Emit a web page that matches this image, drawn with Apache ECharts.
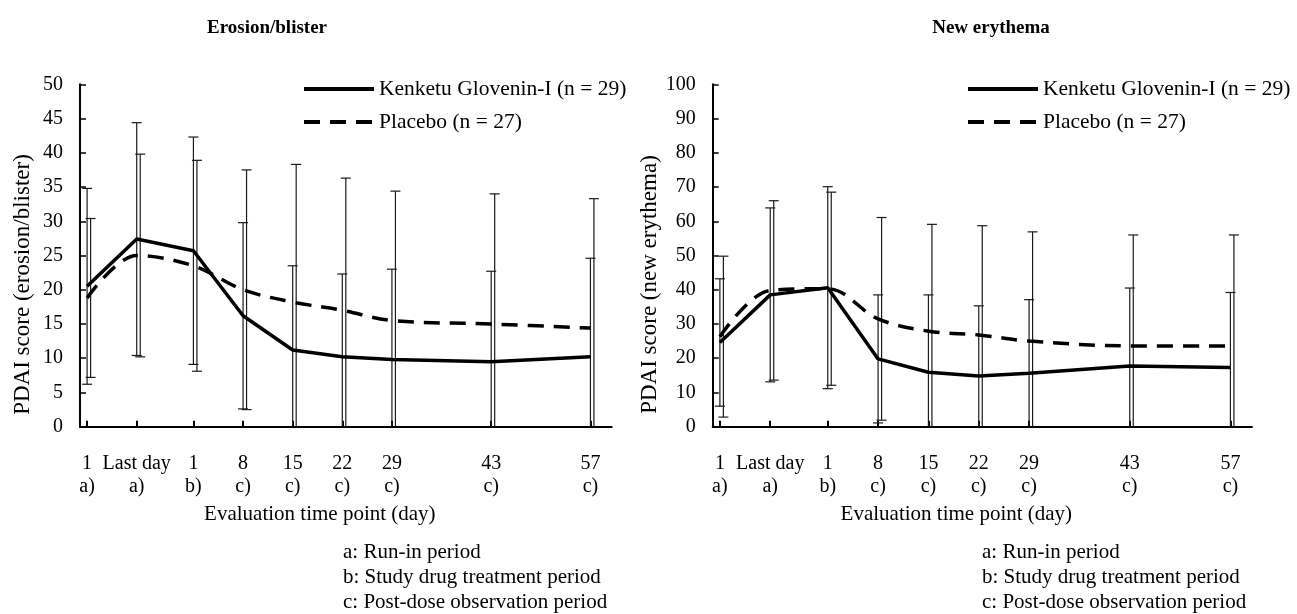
<!DOCTYPE html>
<html><head><meta charset="utf-8">
<script src="https://cdn.jsdelivr.net/npm/echarts@6/dist/echarts.min.js"></script>
<style>html,body{margin:0;padding:0;background:#fff}#c{width:1297px;height:614px}</style>
</head><body><div id="c"></div>
<script>
const xDays = [-14, -7, 1, 8, 15, 22, 29, 43, 57];
const xTopLabels = ['1', 'Last day', '1', '8', '15', '22', '29', '43', '57'];
const xPeriodLabels = ['a)', 'a)', 'b)', 'c)', 'c)', 'c)', 'c)', 'c)', 'c)'];
const seriesNames = ['Kenketu Glovenin-I (n = 29)', 'Placebo (n = 27)'];
const panelTitles = ['Erosion/blister', 'New erythema'];
const yAxisNames = ['PDAI score (erosion/blister)', 'PDAI score (new erythema)'];
const xAxisName = 'Evaluation time point (day)';
const footnotes = ['a: Run-in period', 'b: Study drug treatment period', 'c: Post-dose observation period'];
const yMaxes = [50, 100];
const yIntervals = [5, 10];

const erosionDrugMean = [20.5, 27.4, 25.7, 16.2, 11.2, 10.2, 9.8, 9.5, 10.2];
const erosionDrugSD = [14.3, 17.0, 16.6, 13.6, 12.3, 12.1, 13.2, 13.2, 14.4];
const erosionPlaceboMean = [18.8, 25.0, 23.5, 20.0, 18.2, 17.0, 15.5, 15.0, 14.4];
const erosionPlaceboSD = [11.6, 14.8, 15.4, 17.5, 20.1, 19.3, 18.9, 19.0, 18.9];
const erythemaDrugMean = [24.6, 38.5, 40.6, 19.8, 15.9, 14.8, 15.6, 17.7, 17.3];
const erythemaDrugSD = [18.6, 25.4, 29.5, 18.7, 22.6, 20.5, 21.5, 22.8, 21.9];
const erythemaPlaceboMean = [26.3, 39.8, 40.3, 31.5, 27.9, 26.8, 25.0, 23.6, 23.6];
const erythemaPlaceboSD = [23.5, 26.2, 28.2, 29.6, 31.2, 31.9, 31.9, 32.4, 32.4];

const FONT = '"Liberation Serif", "Times New Roman", serif';
const chart = echarts.init(document.getElementById('c'), null, {renderer: 'canvas'});

const panels = [
  {drug: erosionDrugMean, drugSD: erosionDrugSD, pla: erosionPlaceboMean, plaSD: erosionPlaceboSD},
  {drug: erythemaDrugMean, drugSD: erythemaDrugSD, pla: erythemaPlaceboMean, plaSD: erythemaPlaceboSD}
];

const grids = [
  {left: 80, top: 84.3, width: 531.7, height: 342.4},
  {left: 712.7, top: 84.3, width: 539.3, height: 342.4}
];

function labelFor(v) {
  const i = xDays.indexOf(v);
  return i < 0 ? '' : xTopLabels[i] + '\n' + xPeriodLabels[i];
}

const xAxes = grids.map((g, i) => ({
  type: 'value', gridIndex: i, min: -15, max: 60,
  name: xAxisName, nameLocation: 'middle', nameGap: 68,
  nameTextStyle: {fontFamily: FONT, fontSize: 21, color: '#000', padding: [0, 52, 0, 0]},
  axisLine: {show: true, onZero: false, lineStyle: {color: '#000', width: 2}},
  axisTick: {show: true, inside: true, length: 6, customValues: xDays, lineStyle: {color: '#000', width: 2}},
  axisLabel: {customValues: xDays, formatter: labelFor, fontFamily: FONT, fontSize: 20, color: '#000',
    lineHeight: 23, margin: 26},
  splitLine: {show: false}
}));

const yAxes = grids.map((g, i) => ({
  type: 'value', gridIndex: i, min: 0, max: yMaxes[i], interval: yIntervals[i],
  name: yAxisNames[i], nameLocation: 'middle', nameGap: i === 0 ? 46 : 40,
  nameTextStyle: {fontFamily: FONT, fontSize: 23, color: '#000', padding: [0, 58, 0, 0]},
  axisLine: {show: true, onZero: false, lineStyle: {color: '#000', width: 2}},
  axisTick: {show: true, inside: true, length: 6, lineStyle: {color: '#000', width: 1.5}},
  axisLabel: {fontFamily: FONT, fontSize: 20, color: '#000', margin: 17},
  splitLine: {show: false}
}));

function errRender(dx) {
  return function (params, api) {
    const x = api.value(0), m = api.value(1), s = api.value(2);
    const hi = m + s, loRaw = m - s, lo = Math.max(0, loRaw);
    const pHi = api.coord([x, hi]);
    const pLo = api.coord([x, lo]);
    const cx = pHi[0] + dx;
    const style = {stroke: '#1a1a1a', lineWidth: 1.2};
    const children = [
      {type: 'line', shape: {x1: cx, y1: pHi[1], x2: cx, y2: pLo[1]}, style: style},
      {type: 'line', shape: {x1: cx - 5, y1: pHi[1], x2: cx + 5, y2: pHi[1]}, style: style}
    ];
    if (loRaw > 0) children.push({type: 'line', shape: {x1: cx - 5, y1: pLo[1], x2: cx + 5, y2: pLo[1]}, style: style});
    return {type: 'group', children: children};
  };
}

const series = [];
panels.forEach((p, i) => {
  series.push({
    type: 'custom', xAxisIndex: i, yAxisIndex: i, silent: true, z: 1,
    renderItem: errRender(0), encode: {x: 0, y: 1},
    data: xDays.map((d, k) => [d, p.drug[k], p.drugSD[k]])
  });
  series.push({
    type: 'custom', xAxisIndex: i, yAxisIndex: i, silent: true, z: 1,
    renderItem: errRender(3.5), encode: {x: 0, y: 1},
    data: xDays.map((d, k) => [d, p.pla[k], p.plaSD[k]])
  });
  series.push({
    name: seriesNames[0], type: 'line', xAxisIndex: i, yAxisIndex: i, z: 3,
    symbol: 'none', smooth: false, silent: true,
    lineStyle: {color: '#000', width: 3.5, type: 'solid'},
    itemStyle: {color: '#000', opacity: 0},
    data: xDays.map((d, k) => [d, p.drug[k]])
  });
  series.push({
    name: seriesNames[1], type: 'line', xAxisIndex: i, yAxisIndex: i, z: 3,
    symbol: 'none', smooth: 0.35, silent: true,
    lineStyle: {color: '#000', width: 3.5, type: [16, 10]},
    itemStyle: {color: '#000', opacity: 0},
    data: xDays.map((d, k) => [d, p.pla[k]])
  });
});

const legendBase = {
  orient: 'vertical', data: seriesNames, top: 78, padding: 0,
  itemWidth: 70, itemHeight: 20, itemGap: 11, selectedMode: false,
  itemStyle: {opacity: 0},
  lineStyle: {width: 4},
  textStyle: {fontFamily: FONT, fontSize: 21.5, color: '#000', lineHeight: 20}
};

const graphics = [];
[343, 982].forEach(x0 => {
  footnotes.forEach((t, k) => {
    graphics.push({type: 'text', left: x0, top: 542 + k * 25,
      style: {text: t, fontFamily: FONT, fontSize: 21, fill: '#000'}});
  });
});

chart.setOption({
  animation: false,
  backgroundColor: '#fff',
  title: [
    {text: panelTitles[0], left: 262, top: 14, textAlign: 'center',
      textStyle: {fontFamily: FONT, fontSize: 19, fontWeight: 'bold', color: '#000'}},
    {text: panelTitles[1], left: 986, top: 14, textAlign: 'center',
      textStyle: {fontFamily: FONT, fontSize: 19, fontWeight: 'bold', color: '#000'}}
  ],
  legend: [
    Object.assign({}, legendBase, {left: 302}),
    Object.assign({}, legendBase, {left: 966})
  ],
  grid: grids,
  xAxis: xAxes,
  yAxis: yAxes,
  series: series,
  graphic: graphics
});
</script></body></html>
